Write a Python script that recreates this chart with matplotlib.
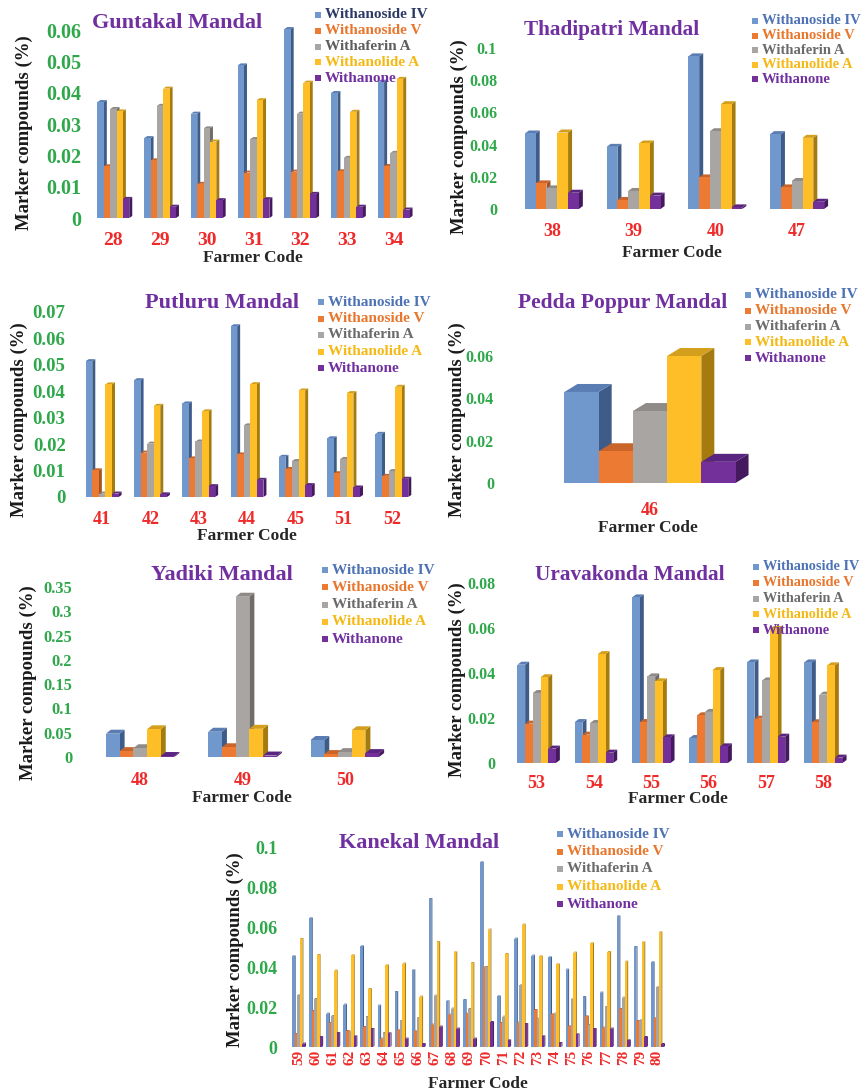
import numpy as np
import matplotlib
matplotlib.use('Agg')
import matplotlib.pyplot as plt
from matplotlib.patches import Polygon, Rectangle

plt.rcParams['font.family'] = 'Liberation Serif'
plt.rcParams['font.weight'] = 'bold'

W_PX, H_PX = 863, 1092

compounds = ['Withanoside IV', 'Withanoside V', 'Withaferin A', 'Withanolide A', 'Withanone']
bar_colors = ['#7098cd', '#ec7a32', '#a8a5a2', '#fdbe27', '#73309b']
side_colors = ['#3f5b88', '#a4531f', '#6f6c69', '#a57b10', '#44195e']
top_colors = ['#5a7db4', '#c9652a', '#8e8b88', '#d49f1c', '#5a2580']
text_colors = ['#4e72b6', '#e8762d', '#6b6b6b', '#f5b915', '#7030a0']
tick_green = '#2ea84a'
code_red = '#ee2a2a'
title_purple = '#7030a0'

# ---- data: marker compounds (%) per farmer code ----
guntakal_codes = [28, 29, 30, 31, 32, 33, 34]
guntakal_iv = [0.0370, 0.0255, 0.0333, 0.0487, 0.0603, 0.0399, 0.0435]
guntakal_v = [0.0165, 0.0184, 0.0109, 0.0145, 0.0148, 0.0149, 0.0166]
guntakal_wfa = [0.0348, 0.0358, 0.0286, 0.0252, 0.0333, 0.0192, 0.0208]
guntakal_wla = [0.0340, 0.0413, 0.0244, 0.0376, 0.0432, 0.0339, 0.0444]
guntakal_wone = [0.0061, 0.0036, 0.0057, 0.0060, 0.0077, 0.0036, 0.0027]

thadipatri_codes = [38, 39, 40, 47]
thadipatri_iv = [0.0469, 0.0386, 0.0948, 0.0465]
thadipatri_v = [0.0159, 0.0056, 0.0196, 0.0134]
thadipatri_wfa = [0.0128, 0.0112, 0.0483, 0.0174]
thadipatri_wla = [0.0475, 0.0407, 0.0651, 0.0442]
thadipatri_wone = [0.0101, 0.0083, 0.0010, 0.0045]

putluru_codes = [41, 42, 43, 44, 45, 51, 52]
putluru_iv = [0.0514, 0.0442, 0.0354, 0.0646, 0.0152, 0.0222, 0.0239]
putluru_v = [0.0101, 0.0168, 0.0146, 0.0161, 0.0106, 0.0090, 0.0080]
putluru_wfa = [0.0013, 0.0202, 0.0210, 0.0271, 0.0136, 0.0144, 0.0098]
putluru_wla = [0.0426, 0.0345, 0.0324, 0.0427, 0.0403, 0.0393, 0.0417]
putluru_wone = [0.0013, 0.0010, 0.0041, 0.0065, 0.0045, 0.0036, 0.0069]

pedda_codes = [46]
pedda_iv = [0.043]
pedda_v = [0.015]
pedda_wfa = [0.034]
pedda_wla = [0.060]
pedda_wone = [0.010]

yadiki_codes = [48, 49, 50]
yadiki_iv = [0.048, 0.052, 0.035]
yadiki_v = [0.012, 0.020, 0.006]
yadiki_wfa = [0.018, 0.330, 0.010]
yadiki_wla = [0.057, 0.058, 0.055]
yadiki_wone = [0.002, 0.003, 0.008]

uravakonda_codes = [53, 54, 55, 56, 57, 58]
uravakonda_iv = [0.0437, 0.0182, 0.0736, 0.0111, 0.0447, 0.0447]
uravakonda_v = [0.0175, 0.0126, 0.0182, 0.0212, 0.0197, 0.0181]
uravakonda_wfa = [0.0311, 0.0178, 0.0385, 0.0227, 0.0367, 0.0304]
uravakonda_wla = [0.0381, 0.0484, 0.0363, 0.0413, 0.0596, 0.0434]
uravakonda_wone = [0.0064, 0.0046, 0.0114, 0.0074, 0.0117, 0.0024]

kanekal_codes = list(range(59, 81))
kanekal_iv = [0.0453, 0.0643, 0.0167, 0.0212, 0.0503, 0.0207, 0.0275, 0.0383, 0.0740, 0.0228, 0.0235,
              0.0923, 0.0253, 0.0542, 0.0457, 0.0448, 0.0387, 0.0250, 0.0272, 0.0653, 0.0500, 0.0423]
kanekal_v = [0.0065, 0.0180, 0.0120, 0.0080, 0.0100, 0.0042, 0.0083, 0.0078, 0.0112, 0.0162, 0.0167,
             0.0398, 0.0120, 0.0122, 0.0185, 0.0163, 0.0103, 0.0153, 0.0097, 0.0190, 0.0130, 0.0143]
kanekal_wfa = [0.0258, 0.0240, 0.0155, 0.0077, 0.0150, 0.0070, 0.0130, 0.0145, 0.0257, 0.0192, 0.0190,
               0.0400, 0.0152, 0.0308, 0.0142, 0.0167, 0.0238, 0.0110, 0.0200, 0.0247, 0.0133, 0.0298]
kanekal_wla = [0.0540, 0.0460, 0.0382, 0.0458, 0.0290, 0.0408, 0.0417, 0.0252, 0.0525, 0.0473, 0.0420,
               0.0587, 0.0465, 0.0612, 0.0453, 0.0413, 0.0472, 0.0518, 0.0475, 0.0427, 0.0523, 0.0573]
kanekal_wone = [0.0017, 0.0050, 0.0070, 0.0053, 0.0090, 0.0068, 0.0042, 0.0015, 0.0102, 0.0092, 0.0042,
                0.0125, 0.0033, 0.0115, 0.0053, 0.0020, 0.0063, 0.0090, 0.0092, 0.0033, 0.0050, 0.0015]

fig = plt.figure(figsize=(W_PX / 100, H_PX / 100), dpi=100)


def fx(x):
    return x / W_PX


def fy(y):
    return 1 - y / H_PX


def draw_panel(codes, series, title, box, ymax, ystep, group, depth,
               title_xy, legend_xy, ylabel_xy, xlabel_xy,
               ytick_pad, xtick_pad, ytick_size=12, title_size=16, legend_size=11,
               rot=0, xtick_size=13, legend_text=None):
    L, R, Y0, Yt = box
    ax = fig.add_axes([fx(L), fy(Y0), (R - L) / W_PX, (Y0 - Yt) / H_PX])
    n = len(codes)
    ax.set_xlim(-0.5, n - 0.5)
    ax.set_ylim(0, ymax)
    x = np.arange(n)
    bw = group / 5
    # 3D depth of the columns, pixels -> data units
    ddx = depth[0] * n / (R - L)
    ddy = depth[1] * ymax / (Y0 - Yt)
    for k, vals in enumerate(series):
        xs = x - group / 2 + bw * (k + 0.5)
        ax.bar(xs, vals, width=bw, color=bar_colors[k], linewidth=0,
               zorder=5 + 3 * k, clip_on=False)
        if depth[0] > 0:
            for xc, v in zip(xs, vals):
                xl, xr = xc - bw / 2, xc + bw / 2
                ax.add_patch(Polygon([(xr, 0), (xr + ddx, ddy), (xr + ddx, v + ddy), (xr, v)],
                                     closed=True, facecolor=side_colors[k], lw=0,
                                     zorder=4 + 3 * k, clip_on=False))
                ax.add_patch(Polygon([(xl, v), (xl + ddx, v + ddy), (xr + ddx, v + ddy), (xr, v)],
                                     closed=True, facecolor=top_colors[k], lw=0,
                                     zorder=4 + 3 * k, clip_on=False))
    yt = np.round(np.arange(0, ymax + ystep / 2, ystep), 3)
    ax.set_yticks(yt)
    ax.set_yticklabels([f'{t:g}' for t in yt])
    ax.set_xticks(x)
    ax.set_xticklabels([str(c) for c in codes], rotation=rot)
    ax.tick_params(axis='y', length=0, pad=ytick_pad, labelsize=ytick_size, labelcolor=tick_green)
    ax.tick_params(axis='x', length=0, pad=xtick_pad, labelsize=xtick_size, labelcolor=code_red)
    for s in ax.spines.values():
        s.set_visible(False)
    ax.patch.set_alpha(0)

    fig.text(fx(title_xy[0]), fy(title_xy[1]), title, fontsize=title_size, color=title_purple,
             ha='center', va='center')
    fig.text(fx(ylabel_xy[0]), fy(ylabel_xy[1]), 'Marker compounds (%)', fontsize=13.5,
             rotation=90, ha='center', va='center', color='#1a1a1a')
    fig.text(fx(xlabel_xy[0]), fy(xlabel_xy[1]), 'Farmer Code', fontsize=12.5,
             ha='center', va='center', color='#262626')

    tcols = legend_text if legend_text else text_colors
    lx, ly, step = legend_xy
    for k, name in enumerate(compounds):
        yy = ly + k * step
        fig.add_artist(Rectangle((fx(lx), fy(yy + 3)), 6 / W_PX, 6 / H_PX,
                                 transform=fig.transFigure, facecolor=bar_colors[k], lw=0))
        fig.text(fx(lx + 10), fy(yy), name, fontsize=legend_size, color=tcols[k],
                 ha='left', va='center')
    return ax


guntakal_text = ['#2c3a66', '#e8762d', '#5e5e5e', '#f5b915', '#7030a0']

draw_panel(guntakal_codes,
           [guntakal_iv, guntakal_v, guntakal_wfa, guntakal_wla, guntakal_wone],
           'Guntakal Mandal', (90, 417, 218, 30), 0.06, 0.01, 0.68, (3, 2),
           (177, 23), (315, 15, 15.8), (24, 133), (253, 258), 6, 10,
           ytick_size=14.5, xtick_size=14, legend_text=guntakal_text)

draw_panel(thadipatri_codes,
           [thadipatri_iv, thadipatri_v, thadipatri_wfa, thadipatri_wla, thadipatri_wone],
           'Thadipatri Mandal', (511, 838, 209, 48), 0.1, 0.02, 0.66, (4, 3),
           (612, 30), (752, 21, 14.6), (459, 137), (672, 253), 10, 10,
           ytick_size=11.5, title_size=15.3, legend_size=10.5)

draw_panel(putluru_codes,
           [putluru_iv, putluru_v, putluru_wfa, putluru_wla, putluru_wone],
           'Putluru Mandal', (78, 416, 497, 312), 0.07, 0.01, 0.68, (3, 2),
           (222, 303), (318, 302, 16.5), (19, 420), (247, 536), 9, 10,
           ytick_size=13.5)

draw_panel(pedda_codes,
           [pedda_iv, pedda_v, pedda_wfa, pedda_wla, pedda_wone],
           'Pedda Poppur Mandal', (505, 795, 483, 356), 0.06, 0.02, 0.59, (13, 8),
           (623, 303), (745, 295, 15.8), (457, 420), (648, 528), 8, 14,
           ytick_size=11.5, title_size=15.5)

draw_panel(yadiki_codes,
           [yadiki_iv, yadiki_v, yadiki_wfa, yadiki_wla, yadiki_wone],
           'Yadiki Mandal', (89, 396, 757, 587), 0.35, 0.05, 0.67, (5, 4),
           (222, 575), (322, 570, 17.3), (28, 683), (242, 798), 12, 11,
           ytick_size=11.8)

draw_panel(uravakonda_codes,
           [uravakonda_iv, uravakonda_v, uravakonda_wfa, uravakonda_wla, uravakonda_wone],
           'Uravakonda Mandal', (508, 852, 763, 583), 0.08, 0.02, 0.67, (4, 3),
           (630, 575), (753, 567, 15.8), (457, 680), (678, 799), 9, 9,
           ytick_size=11.5, title_size=15.3, legend_size=10.3)

draw_panel(kanekal_codes,
           [kanekal_iv, kanekal_v, kanekal_wfa, kanekal_wla, kanekal_wone],
           'Kanekal Mandal', (290, 666, 1047, 847), 0.1, 0.02, 0.76, (1, 1),
           (419, 843), (557, 834, 17.5), (235, 950), (478, 1084), 9, 2,
           ytick_size=13, rot=90, xtick_size=11)

fig.savefig('out.png', dpi=100)
